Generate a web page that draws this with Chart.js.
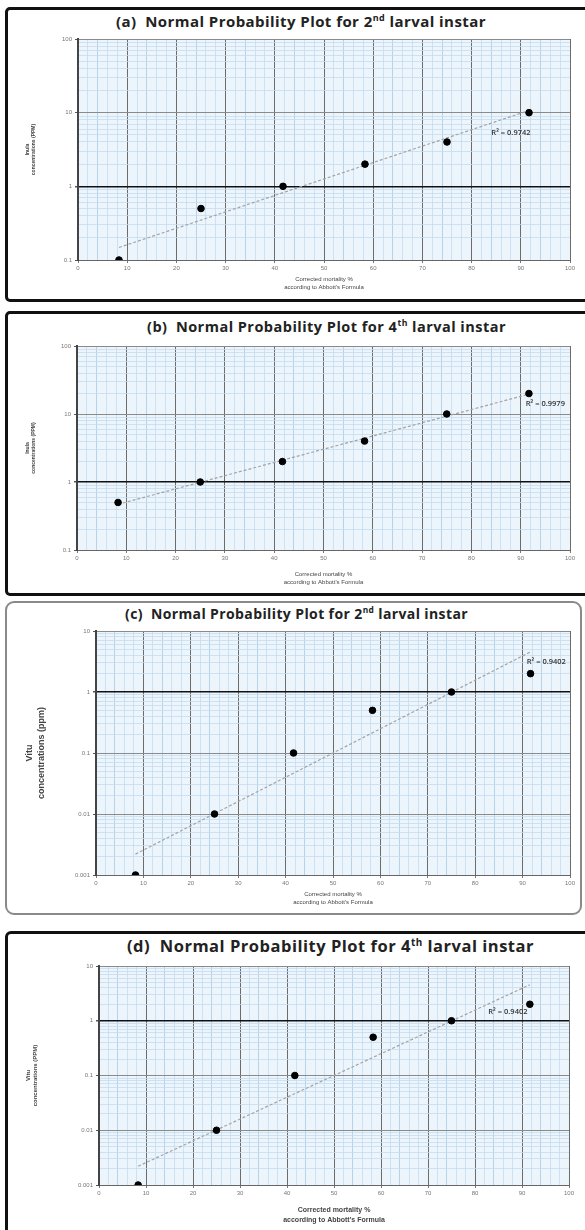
<!DOCTYPE html>
<html>
<head>
<meta charset="utf-8">
<script src="https://cdn.jsdelivr.net/npm/chart.js@4"></script>
<style>
  body { margin: 0; width: 585px; height: 1230px; overflow: hidden; background: #fff; position: relative; font-family: "Open Sans", sans-serif; }
  .box { position: absolute; background: #fff; box-sizing: border-box; }
  .title { position: absolute; font-family: "Open Sans", sans-serif; font-weight: 700; color: #222; white-space: nowrap; display: inline-block; line-height: 1.2; }
  .title sup { font-size: 0.6em; }
  canvas { position: absolute; left: 0; }
</style>
</head>
<body>
<div class="box" style="left:5px;top:7px;width:600px;height:295px;border:3px solid #111;border-radius:5px"></div>
<div class="box" style="left:5px;top:311px;width:600px;height:285px;border:3px solid #111;border-radius:5px"></div>
<div class="box" style="left:5px;top:601px;width:577px;height:314px;border:2px solid #8a8a8a;border-radius:9px"></div>
<div class="box" style="left:5px;top:931px;width:600px;height:310px;border:3px solid #111;border-radius:6px"></div>

<div class="title" data-w="370" style="left:116px;top:12px;font-size:15px">(a)&nbsp; Normal Probability Plot for 2<sup>nd</sup> larval instar</div>
<div class="title" data-w="359" style="left:147px;top:318px;font-size:14.5px">(b)&nbsp; Normal Probability Plot for 4<sup>th</sup> larval instar</div>
<div class="title" data-w="343" style="left:125px;top:605px;font-size:14px">(c)&nbsp; Normal Probability Plot for 2<sup>nd</sup> larval instar</div>
<div class="title" data-w="407" style="left:127px;top:936px;font-size:16.5px">(d)&nbsp; Normal Probability Plot for 4<sup>th</sup> larval instar</div>

<canvas id="ca"></canvas>
<canvas id="cb"></canvas>
<canvas id="cc"></canvas>
<canvas id="cd"></canvas>

<script>
// corrected mortality % (x) shared by all four plots
const mortality = [8.33, 25, 41.67, 58.33, 75, 91.67];

// concentrations (ppm)
const concA = [0.1, 0.5, 1, 2, 4, 10];
const concB = [0.5, 1, 2, 4, 10, 20];
const concC = [0.001, 0.01, 0.1, 0.5, 1, 2];
const concD = [0.001, 0.01, 0.1, 0.5, 1, 2];

// trendline ends
const trendX = [8.33, 91.67];
const trendA = [0.148, 10.7];
const trendB = [0.47, 19.6];
const trendC = [0.0022, 4.55];
const trendD = [0.0022, 4.55];

const r2Labels = ['R² = 0.9742', 'R² = 0.9979', 'R² = 0.9402', 'R² = 0.9402'];
const r2Pos = [[88, 5.4], [95, 14], [95, 3.1], [87, 1.46]];

const yTicksAB = [0.1, 1, 10, 100];
const yTicksCD = [0.001, 0.01, 0.1, 1, 10];
const xTickStep = 10;

// nudge titles to the width they have in the picture
document.querySelectorAll('.title').forEach(el => {
  const target = +el.dataset.w;
  const n = el.textContent.length;
  el.style.letterSpacing = ((target - el.getBoundingClientRect().width) / n) + 'px';
});

const logMinor = (min, max) => {
  const arr = [];
  for (let e = Math.round(Math.log10(min)); e < Math.round(Math.log10(max)); e++)
    for (let k = 1; k < 10; k++) arr.push(+(k * Math.pow(10, e)).toPrecision(3));
  arr.push(max);
  return arr;
};
const isMajor = v => Math.abs(Math.log10(v) - Math.round(Math.log10(v))) < 1e-6;

const plotBg = {
  id: 'plotBg',
  beforeDraw(chart) {
    const { ctx, chartArea: a } = chart;
    ctx.save();
    ctx.fillStyle = '#edf5fc';
    ctx.fillRect(a.left, a.top, a.right - a.left, a.bottom - a.top);
    ctx.restore();
  }
};

const r2Text = {
  id: 'r2Text',
  afterDatasetsDraw(chart, args, opts) {
    const { ctx, scales } = chart;
    ctx.save();
    ctx.font = opts.font;
    ctx.fillStyle = '#333';
    ctx.textAlign = 'center';
    ctx.textBaseline = 'middle';
    ctx.fillText(opts.text, scales.x.getPixelForValue(opts.pos[0]), scales.y.getPixelForValue(opts.pos[1]));
    ctx.restore();
  }
};

const panel = (id, p) => {
  const cv = document.getElementById(id);
  const top = p.plotT - 8;
  cv.width = 585;
  cv.height = p.axisB - top;
  cv.style.top = top + 'px';
  const yMin = p.yTicks[0], yMax = p.yTicks[p.yTicks.length - 1];
  new Chart(cv, {
    type: 'scatter',
    data: {
      datasets: [
        {
          data: mortality.map((x, i) => ({ x, y: p.conc[i] })),
          backgroundColor: '#000',
          borderColor: '#000',
          pointRadius: 3.3,
          pointStyle: 'circle'
        },
        {
          type: 'line',
          data: trendX.map((x, i) => ({ x, y: p.trend[i] })),
          borderColor: '#a3a3a3',
          borderWidth: 1.2,
          borderDash: [3, 2],
          pointRadius: 0,
          fill: false
        }
      ]
    },
    options: {
      responsive: false,
      animation: false,
      layout: { padding: { top: 8, left: p.padL, right: 585 - p.plotR, bottom: 0 } },
      plugins: {
        legend: { display: false },
        tooltip: { enabled: false },
        r2Text: { text: p.r2, pos: p.r2Pos, font: '600 7.5px "Open Sans"' }
      },
      scales: {
        x: {
          type: 'linear',
          min: 0, max: 100,
          afterBuildTicks: s => { s.ticks = []; for (let v = 0; v <= 100; v += 2) s.ticks.push({ value: v }); },
          afterFit: s => { s.height = p.axisB - p.plotB; },
          ticks: {
            autoSkip: false, maxRotation: 0, color: '#777', font: { size: 6 }, padding: 2,
            callback: v => v % xTickStep === 0 ? v : ''
          },
          grid: {
            color: c => c.tick.value % 10 === 0 ? '#6c6c6c' : (c.tick.value % 10 === 4 ? '#a9c9e2' : '#c4dcef'),
            lineWidth: c => c.tick.value % 10 === 0 ? 1 : 0.8,
            tickColor: c => c.tick.value % 10 === 0 ? '#777' : 'transparent',
            tickLength: 3
          },
          border: { color: '#666', width: 1 },
          title: {
            display: true,
            text: ['Corrected mortality %', "according to Abbott's Formula"],
            color: '#444',
            font: { size: p.xTitleSize, weight: p.xTitleWeight, lineHeight: 1.4 },
            padding: { top: 2, bottom: 0 }
          }
        },
        y: {
          type: 'logarithmic',
          min: yMin, max: yMax,
          afterBuildTicks: s => { s.ticks = logMinor(yMin, yMax).map(v => ({ value: v })); },
          afterFit: s => { s.width = p.plotL - p.padL; },
          ticks: {
            autoSkip: false, color: '#777', font: { size: 6 }, padding: 3,
            callback: v => isMajor(v) ? String(+v.toPrecision(3)) : ''
          },
          grid: {
            color: c => Math.abs(c.tick.value - 1) < 1e-9 ? '#111' : (isMajor(c.tick.value) ? '#8a8a8a' : '#c4dcef'),
            lineWidth: c => Math.abs(c.tick.value - 1) < 1e-9 ? 1.6 : (isMajor(c.tick.value) ? 1 : 0.8),
            tickColor: c => isMajor(c.tick.value) ? '#555' : 'transparent',
            tickLength: 3
          },
          border: { color: '#444', width: 2 },
          title: {
            display: true,
            text: p.yTitle,
            color: '#444',
            font: { size: p.yTitleSize, weight: 'bold', lineHeight: 1.3 },
            padding: { top: 0, bottom: p.yTitlePad }
          }
        }
      }
    },
    plugins: [plotBg, r2Text]
  });
};

panel('ca', { conc: concA, trend: trendA, r2: r2Labels[0], r2Pos: r2Pos[0], yTicks: yTicksAB,
  plotL: 78, plotR: 570, plotT: 39, plotB: 260, axisB: 292, padL: 24,
  yTitle: ['Inula', 'concentrations (PPM)'], yTitleSize: 5, yTitlePad: 10, xTitleSize: 6, xTitleWeight: 'normal' });
panel('cb', { conc: concB, trend: trendB, r2: r2Labels[1], r2Pos: r2Pos[1], yTicks: yTicksAB,
  plotL: 77, plotR: 570, plotT: 346, plotB: 550, axisB: 587, padL: 24,
  yTitle: ['Inula', 'concentrations (PPM)'], yTitleSize: 5, yTitlePad: 10, xTitleSize: 6, xTitleWeight: 'normal' });
panel('cc', { conc: concC, trend: trendC, r2: r2Labels[2], r2Pos: r2Pos[2], yTicks: yTicksCD,
  plotL: 96, plotR: 570, plotT: 631, plotB: 875, axisB: 907, padL: 24,
  yTitle: ['Vitu', 'concentrations (ppm)'], yTitleSize: 9, yTitlePad: 16, xTitleSize: 6, xTitleWeight: 'normal' });
panel('cd', { conc: concD, trend: trendD, r2: r2Labels[3], r2Pos: r2Pos[3], yTicks: yTicksCD,
  plotL: 99, plotR: 569, plotT: 966, plotB: 1185, axisB: 1225, padL: 24,
  yTitle: ['Vitu', 'concentrations (PPM)'], yTitleSize: 6, yTitlePad: 20, xTitleSize: 7, xTitleWeight: 'bold' });
</script>
</body>
</html>
